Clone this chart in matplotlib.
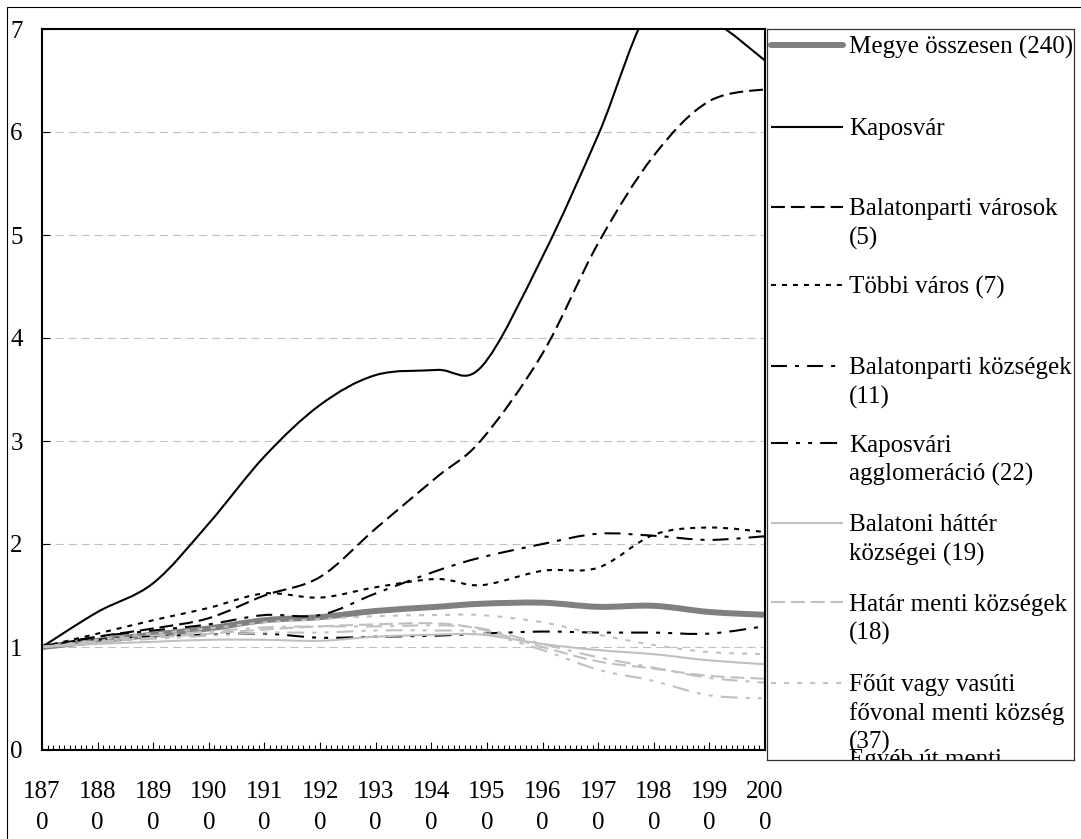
import matplotlib
matplotlib.use("Agg")
import matplotlib.pyplot as plt
from matplotlib.path import Path
from matplotlib.patches import PathPatch, Rectangle

plt.rcParams['font.family'] = ['Liberation Serif', 'DejaVu Serif']
plt.rcParams['lines.scale_dashes'] = False

# ---------------- data ----------------
years = [1870, 1880, 1890, 1900, 1910, 1920, 1930, 1941, 1949, 1960, 1970, 1980, 1990, 2001]

labels = [
    "Megye összesen (240)",
    "Kaposvár",
    "Balatonparti városok\n(5)",
    "Többi város (7)",
    "Balatonparti községek\n(11)",
    "Kaposvári\nagglomeráció (22)",
    "Balatoni háttér\nközségei (19)",
    "Határ menti községek\n(18)",
    "Főút vagy vasúti\nfővonal menti község\n(37)",
    "Egyéb út menti\nközségek",
    "Zsákfalvak",
]

megye      = [1.00, 1.06, 1.12, 1.18, 1.26, 1.29, 1.35, 1.39, 1.42, 1.43, 1.39, 1.40, 1.34, 1.31]
kaposvar   = [1.00, 1.34, 1.62, 2.20, 2.85, 3.35, 3.64, 3.69, 3.72, 4.79, 5.97, 7.25, 7.10, 6.65]
bal_varos  = [1.00, 1.10, 1.18, 1.28, 1.50, 1.68, 2.15, 2.65, 3.01, 3.85, 4.92, 5.77, 6.30, 6.42]
tobbi      = [1.00, 1.13, 1.26, 1.38, 1.52, 1.48, 1.58, 1.66, 1.60, 1.74, 1.77, 2.09, 2.16, 2.11]
bal_kozs   = [1.00, 1.10, 1.16, 1.22, 1.31, 1.31, 1.52, 1.74, 1.87, 2.00, 2.10, 2.08, 2.04, 2.08]
kap_aggl   = [1.00, 1.07, 1.10, 1.12, 1.13, 1.09, 1.10, 1.11, 1.13, 1.15, 1.14, 1.14, 1.13, 1.21]
bal_hatter = [1.00, 1.03, 1.05, 1.07, 1.07, 1.06, 1.10, 1.12, 1.12, 1.03, 0.97, 0.93, 0.87, 0.83]
hatar      = [1.00, 1.05, 1.09, 1.13, 1.17, 1.20, 1.22, 1.23, 1.17, 1.00, 0.86, 0.79, 0.72, 0.69]
fout       = [1.00, 1.07, 1.13, 1.18, 1.24, 1.27, 1.30, 1.31, 1.31, 1.24, 1.12, 1.02, 0.95, 0.93]
egyeb      = [1.00, 1.06, 1.11, 1.15, 1.19, 1.20, 1.20, 1.21, 1.18, 1.03, 0.90, 0.80, 0.70, 0.65]
zsak       = [1.00, 1.04, 1.08, 1.11, 1.14, 1.14, 1.16, 1.16, 1.14, 0.97, 0.78, 0.67, 0.53, 0.50]

series = [megye, kaposvar, bal_varos, tobbi, bal_kozs, kap_aggl,
          bal_hatter, hatar, fout, egyeb, zsak]

# ---------------- styles ----------------
BLACK = "black"
GRAY = "#808080"
LGRAY = "#c0c0c0"
DASH = (0, (10.0, 4.3))
DOT = (0, (3.6, 4.3))
DASHDOT = (0, (11.5, 5.8, 2.9, 5.8))
DASHDOTDOT = (0, (12.2, 5.8, 2.9, 5.8, 2.9, 5.8))
GDOT = (0, (3.6, 5.8))
styles = [
    dict(color=GRAY, lw=4.3, ls='-'),
    dict(color=BLACK, lw=1.5, ls='-'),
    dict(color=BLACK, lw=1.5, ls=DASH),
    dict(color=BLACK, lw=1.5, ls=DOT),
    dict(color=BLACK, lw=1.5, ls=DASHDOT),
    dict(color=BLACK, lw=1.5, ls=DASHDOTDOT),
    dict(color=LGRAY, lw=1.5, ls='-'),
    dict(color=LGRAY, lw=1.5, ls=DASH),
    dict(color=LGRAY, lw=1.5, ls=GDOT),
    dict(color=LGRAY, lw=1.5, ls=DASHDOT),
    dict(color=LGRAY, lw=1.5, ls=DASHDOTDOT),
]


def smooth_path(xs, ys):
    """Excel-style smoothed line as cubic Bezier segments through the data points."""
    pts = list(zip(xs, ys))
    n = len(pts)
    verts = [pts[0]]
    codes = [Path.MOVETO]
    for i in range(n - 1):
        p0 = pts[i - 1] if i > 0 else pts[i]
        p1 = pts[i]
        p2 = pts[i + 1]
        p3 = pts[i + 2] if i + 2 < n else pts[i + 1]
        c1 = (p1[0] + (p2[0] - p0[0]) / 6, p1[1] + (p2[1] - p0[1]) / 6)
        c2 = (p2[0] - (p3[0] - p1[0]) / 6, p2[1] - (p3[1] - p1[1]) / 6)
        verts += [c1, c2, p2]
        codes += [Path.CURVE4] * 3
    return Path(verts, codes)


W, H = 1081, 839
fig = plt.figure(figsize=(W / 100, H / 100), dpi=100)


def fx(px):
    return px / W


def fy(py):
    return 1 - py / H


# outer chart-area border (cut by the image at right/bottom)
fig.patches.append(Rectangle((fx(7), -0.2), 1.5, fy(7) + 0.2, transform=fig.transFigure,
                             fill=False, edgecolor='black', lw=0.8, clip_on=False))

ax = fig.add_axes([fx(42), fy(750), (765 - 42) / W, (750 - 29) / H])
ax.set_xlim(1870, 2000)
ax.set_ylim(0, 7)

for vals, st in zip(series, styles):
    patch = PathPatch(smooth_path(years, vals), fill=False, edgecolor=st['color'],
                      lw=st['lw'], linestyle=st['ls'], capstyle='butt', joinstyle='round')
    ax.add_patch(patch)

# grid
ax.set_axisbelow(True)
ax.yaxis.grid(True, color=LGRAY, lw=0.8, linestyle=(0, (5.8, 3.6)))
ax.set_yticks(range(0, 8))
ax.set_yticklabels([str(v) for v in range(0, 8)])

decades = list(range(1870, 2001, 10))
ax.set_xticks(decades)
ax.set_xticklabels([f"{d // 10}\n{d % 10}" for d in decades])
ax.set_xticks(list(range(1870, 2001)), minor=True)

ax.tick_params(axis='x', which='major', direction='in', length=5.5, width=0.8,
               pad=22.0, labelsize=18, colors='black')
ax.tick_params(axis='x', which='minor', direction='in', length=3.6, width=0.8)
ax.tick_params(axis='y', which='major', direction='in', length=5.8, width=0.8,
               pad=13.8, labelsize=18)
for lbl in ax.get_xticklabels():
    lbl.set_linespacing(1.55)
for sp in ax.spines.values():
    sp.set_linewidth(1.5)
    sp.set_color('black')
gl = ax.yaxis.get_gridlines()
gl[0].set_visible(False)
gl[-1].set_visible(False)

# ---------------- legend (box that cuts off the last entries) ----------------
L, R, T, B = 767, 1074, 29, 760
lax = fig.add_axes([fx(L), fy(B), (R - L) / W, (B - T) / H])
lax.set_xlim(L, R)
lax.set_ylim(B, T)
lax.set_xticks([])
lax.set_yticks([])
for sp in lax.spines.values():
    sp.set_linewidth(0.9)
    sp.set_color('#333333')

entry_y = [45.5, 127, 207, 285.5, 366, 443.5, 523, 602.5, 683, 757.5, 837]
lstep = 28.7
for i, (lab, st) in enumerate(zip(labels, styles)):
    yy = entry_y[i]
    if yy - 12 > B:
        continue
    if yy + 6 < B:
        cap = 'round' if i == 0 else 'butt'
        lax.plot([771, 843], [yy, yy], color=st['color'], lw=st['lw'], linestyle=st['ls'],
                 solid_capstyle=cap, clip_on=True)
    for j, line in enumerate(lab.split("\n")):
        base = yy + 8.5 + j * lstep
        if base - 18 > B:
            continue
        lax.text(849, base, line, fontsize=18, ha='left', va='baseline',
                 color='black', clip_on=True)

fig.savefig("out.png", dpi=100)
